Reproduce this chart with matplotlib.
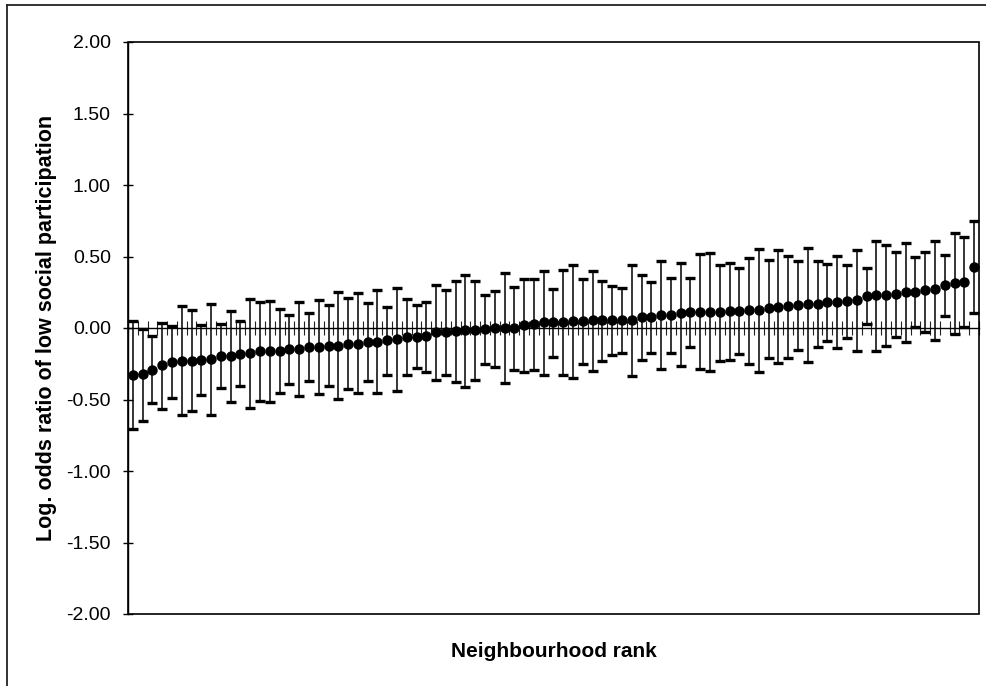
import matplotlib
matplotlib.use("Agg")
import matplotlib.pyplot as plt
import numpy as np
from matplotlib.lines import Line2D
from matplotlib.patches import Rectangle

plt.rcParams['font.family'] = ['Liberation Sans', 'DejaVu Sans']

estimate = [-0.326, -0.324, -0.291, -0.261, -0.238, -0.233, -0.231, -0.226, -0.219, -0.196,
            -0.196, -0.179, -0.175, -0.163, -0.163, -0.159, -0.149, -0.145, -0.133, -0.131,
            -0.124, -0.124, -0.110, -0.110, -0.098, -0.098, -0.084, -0.077, -0.061, -0.061,
            -0.058, -0.030, -0.030, -0.023, -0.016, -0.016, -0.007, -0.002, 0.000, 0.002,
            0.023, 0.026, 0.040, 0.040, 0.044, 0.051, 0.051, 0.058, 0.058, 0.058,
            0.058, 0.058, 0.077, 0.077, 0.093, 0.093, 0.103, 0.114, 0.114, 0.114,
            0.115, 0.117, 0.121, 0.126, 0.126, 0.138, 0.149, 0.154, 0.161, 0.168,
            0.168, 0.182, 0.184, 0.189, 0.193, 0.226, 0.231, 0.231, 0.238, 0.249,
            0.252, 0.263, 0.270, 0.298, 0.315, 0.324, 0.429]

upper = [0.049, -0.005, -0.056, 0.037, 0.014, 0.154, 0.126, 0.023, 0.166, 0.026,
         0.119, 0.049, 0.205, 0.182, 0.186, 0.133, 0.089, 0.182, 0.103, 0.193,
         0.161, 0.252, 0.212, 0.242, 0.172, 0.263, 0.149, 0.277, 0.205, 0.159,
         0.182, 0.298, 0.263, 0.329, 0.371, 0.326, 0.228, 0.261, 0.385, 0.289,
         0.345, 0.345, 0.396, 0.275, 0.408, 0.443, 0.345, 0.401, 0.331, 0.296,
         0.282, 0.443, 0.368, 0.324, 0.466, 0.352, 0.457, 0.352, 0.515, 0.527,
         0.438, 0.455, 0.422, 0.492, 0.550, 0.476, 0.543, 0.506, 0.469, 0.557,
         0.469, 0.445, 0.503, 0.438, 0.543, 0.422, 0.606, 0.580, 0.534, 0.592,
         0.494, 0.534, 0.611, 0.510, 0.662, 0.636, 0.746]

lower = [-0.709, -0.650, -0.527, -0.564, -0.492, -0.611, -0.580, -0.471, -0.611, -0.422,
         -0.517, -0.406, -0.557, -0.510, -0.515, -0.452, -0.394, -0.476, -0.371, -0.459,
         -0.408, -0.499, -0.429, -0.452, -0.371, -0.452, -0.331, -0.441, -0.329, -0.277,
         -0.308, -0.361, -0.326, -0.378, -0.413, -0.366, -0.252, -0.273, -0.387, -0.291,
         -0.305, -0.291, -0.331, -0.203, -0.326, -0.352, -0.254, -0.303, -0.231, -0.191,
         -0.172, -0.333, -0.221, -0.172, -0.284, -0.172, -0.268, -0.135, -0.289, -0.303,
         -0.228, -0.224, -0.184, -0.252, -0.308, -0.212, -0.245, -0.210, -0.154, -0.235,
         -0.133, -0.089, -0.142, -0.072, -0.159, 0.028, -0.161, -0.124, -0.061, -0.100,
         0.007, -0.026, -0.086, 0.082, -0.040, 0.009, 0.107]

y_ticks = [-2.0, -1.5, -1.0, -0.5, 0.0, 0.5, 1.0, 1.5, 2.0]
x_label = "Neighbourhood rank"
y_label = "Log. odds ratio of low social participation"

est = np.array(estimate)
lo = np.array(lower)
up = np.array(upper)
n = len(est)
rank = np.arange(1, n + 1)

W, H = 987, 686
fig = plt.figure(figsize=(W / 100, H / 100), dpi=100)
ax = fig.add_axes([128 / W, 1 - 614 / H, (979 - 128) / W, (614 - 42) / H])

ax.errorbar(rank, est, yerr=[est - lo, up - est], fmt='o', color='black',
            markersize=6.5, elinewidth=1.1, capsize=3.4, capthick=2.4, zorder=3)

ax.set_xlim(0.5, n + 0.5)
ax.set_ylim(-2.0, 2.0)
ax.set_yticks(y_ticks)
ax.set_yticklabels([f"{v:.2f}" for v in y_ticks], fontsize=14)
ax.tick_params(axis='y', direction='inout', length=6.5, width=1.0, pad=9)

# x axis crossing at zero with category-boundary tick marks
for s in ['top', 'right']:
    ax.spines[s].set_visible(False)
ax.spines['bottom'].set_position(('data', 0))
ax.spines['bottom'].set_linewidth(1.0)
ax.spines['left'].set_linewidth(1.0)
ax.set_xticks(np.arange(0.5, n + 1, 1.0))
ax.set_xticklabels([])
ax.tick_params(axis='x', direction='inout', length=10, width=0.8, color='#222222')

# plot area border
ax.add_patch(Rectangle((0, 0), 1, 1, transform=ax.transAxes, fill=False,
                       edgecolor='black', linewidth=1.2, zorder=5, clip_on=False))

ax.set_ylabel(y_label, fontsize=15.5, fontweight='bold')
ax.yaxis.set_label_coords((57 - 128) / (979 - 128), 0.5)
fig.text(554 / W, 1 - 657 / H, x_label, fontsize=15, fontweight='bold',
         ha='center', va='baseline')

# outer chart frame
fig.add_artist(Line2D([7 / W, 7 / W], [0, 1 - 5 / H], transform=fig.transFigure,
                      color='#222222', linewidth=1.3))
fig.add_artist(Line2D([7 / W, 1], [1 - 5 / H, 1 - 5 / H], transform=fig.transFigure,
                      color='#222222', linewidth=1.3))

fig.savefig("out.png", dpi=100, facecolor='white')
